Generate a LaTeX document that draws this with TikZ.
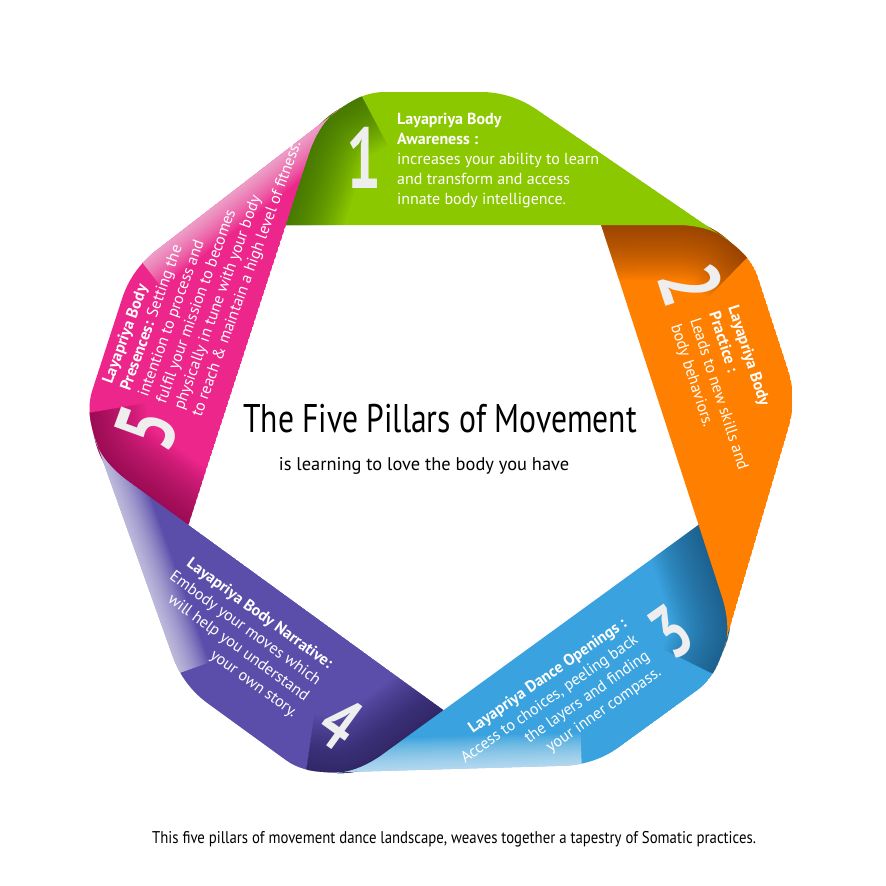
\documentclass[tikz,border=0pt]{standalone}
\usepackage{fontspec}
\setmainfont{PT Sans}
\newfontfamily\condfont[FakeStretch=0.79]{PT Sans}
\newfontfamily\capfont[FakeStretch=0.87]{PT Sans}
\newfontfamily\numfont[FakeStretch=0.72]{PT Sans}
\definecolor{gband}{RGB}{140,200,0}
\definecolor{gshadow}{RGB}{45,90,0}
\definecolor{oband}{RGB}{255,127,0}
\definecolor{oshadow}{RGB}{115,50,0}
\definecolor{bband}{RGB}{58,162,222}
\definecolor{bshadow}{RGB}{22,75,115}
\definecolor{vband}{RGB}{90,78,170}
\definecolor{vshadow}{RGB}{38,28,80}
\definecolor{mband}{RGB}{236,38,138}
\definecolor{mshadow}{RGB}{125,8,68}
\definecolor{numgray}{RGB}{238,238,238}
\def\bandpathext{(280,225) -- (304,150) .. controls (313,127) and (330,114) .. (340.5,108.4) .. controls (352,101) and (365,92) .. (385,92) -- (481,92) .. controls (500,92) and (519,97.7) .. (535.8,108.9) -- (729,241) .. controls (720,233) and (705,226) .. (680,225) -- cycle}
\newcommand\bandshadow[1]{\foreach \w in {5,10,...,110}{\draw[#1,opacity=0.046,line width=\w pt,line join=round] (280,244) -- (286,225) -- (310,150) .. controls (319,127) and (330,114) .. (340.5,108.4) -- (362,97);}}
\newcommand\bandlight[2]{\foreach \w in {4,8,...,64}{\draw[#1,opacity=#2,line width=\w pt] (521.7,99.3) -- (745.5,252.3);}}
\newcommand\drawband[5]{\begin{scope}[rotate around={#1:(C)}]\begin{scope}\clip \bandpathext; \fill[#2] \bandpathext; \bandshadow{#3}\bandlight{#4}{#5}\end{scope}\end{scope}}
\begin{document}
\begin{tikzpicture}[x=1pt,y=-1pt,
  bodytext/.style={text=white,inner sep=0pt,font={\fontsize{16}{20}\selectfont}},
  bignum/.style={text=numgray,inner sep=0pt,font={\numfont\bfseries\fontsize{86}{86}\selectfont}},
  midnum/.style={text=numgray,inner sep=0pt,font={\numfont\bfseries\fontsize{75}{75}\selectfont}}]
\useasboundingbox (0,0) rectangle (886,886);
\fill[white] (0,0) rectangle (886,886);
\coordinate (C) at (443.5,442);
% bands (pink, purple, blue, orange, green), then pink tail again
\drawband{72}{mband}{mshadow}{white}{0.05}
\drawband{144}{vband}{vshadow}{white}{0.06}
\drawband{-144}{bband}{bshadow}{white}{0.06}
\drawband{-72}{oband}{oshadow}{white}{0}
\drawband{0}{gband}{gshadow}{white}{0}
\begin{scope}
\clip (0,0) rectangle (420,262);
\drawband{72}{mband}{mshadow}{white}{0.05}
\end{scope}
% numbers
\node[bignum] (n1) at (364,158) {1};
\node[bignum,rotate=-72] (n2) at (691,285) {2};
\node[midnum,rotate=35] (n3) at (671,632) {3};
\node[midnum,rotate=-36] (n4) at (340,723) {4};
\node[bignum,rotate=70] (n5) at (147,428) {5};
% texts
\node[bodytext,anchor=north west,align=left] (t1) at (397,113)
  {\textbf{Layapriya Body}\\\textbf{Awareness :}\\increases your ability to learn\\and transform and access\\innate body intelligence.};
\node[bodytext,anchor=north west,align=left,rotate=-72] (t2) at (739,304)
  {\textbf{Layapriya Body}\\\textbf{Practice :}\\Leads to new skills and\\body behaviors.};
\node[bodytext,anchor=north east,align=right,rotate=35] (t3) at (621,616)
  {\textbf{Layapriya Dance Openings :}\\Access to choices, peeling back\\the layers and finding\\your inner compass.};
\node[bodytext,anchor=north east,align=right,rotate=-36] (t4) at (335,660)
  {\textbf{Layapriya Body Narrative:}\\Embody your moves which\\will help you understand\\your own story.};
\node[bodytext,anchor=north west,align=left,rotate=70,font={\fontsize{16}{19}\selectfont}] (t5) at (101,381)
  {\textbf{Layapriya Body}\\\textbf{Presences:} Setting the\\intention to process and\\fulfil your mission to becomes\\physically in tune with your body\\to reach \& maintain a high level of fitness.};
% titles
\node[inner sep=0pt,anchor=base,font={\condfont\fontsize{40}{48}\selectfont}] (title) at (440,432) {The Five Pillars of Movement};
\node[inner sep=0pt,anchor=base,font={\fontsize{18.4}{22}\selectfont}] (sub) at (424,470) {is learning to love the body you have};
\node[inner sep=0pt,anchor=base,font={\capfont\fontsize{17}{20}\selectfont}] (cap) at (454,843) {This five pillars of movement dance landscape, weaves together a tapestry of Somatic practices.};
\end{tikzpicture}
\end{document}
